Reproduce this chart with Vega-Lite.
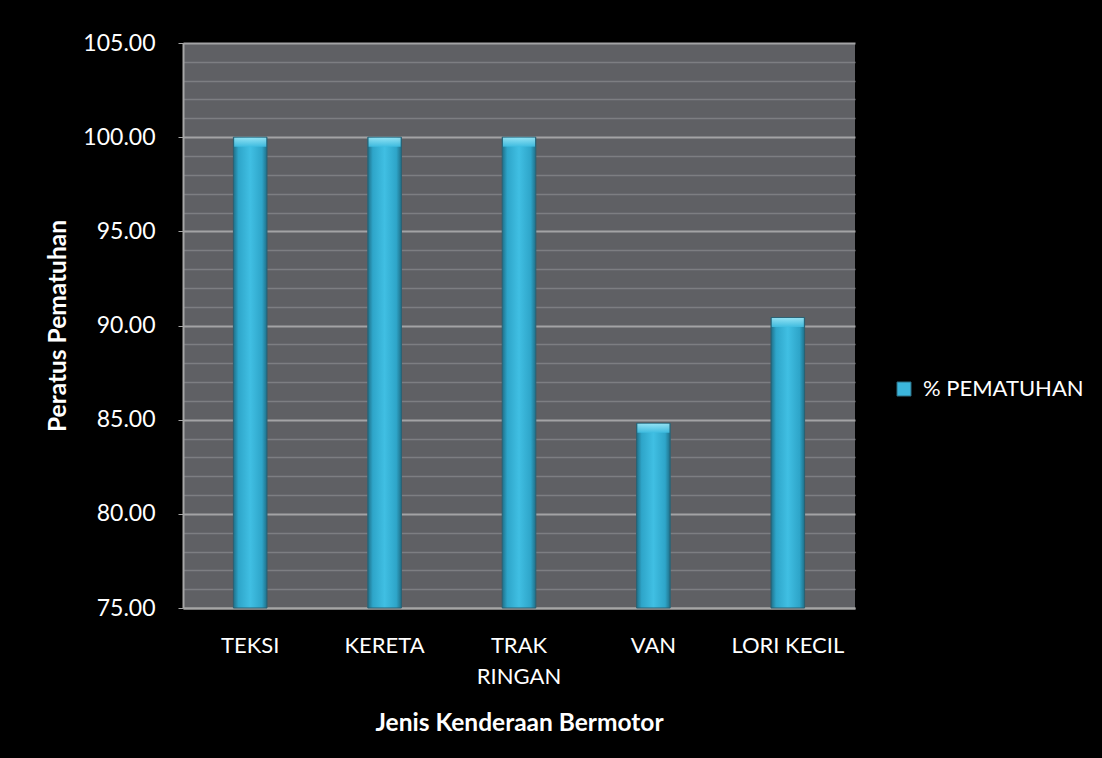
{
  "$schema": "https://vega.github.io/schema/vega-lite/v6.json",
  "autosize": {"type": "none"},
  "padding": {"left": 183, "top": 43, "right": 247, "bottom": 150},
  "width": 672,
  "height": 565,
  "background": "#000000",
  "config": {
    "view": {"fill": "#5f6064", "stroke": null},
    "font": "Lato"
  },
  "data": {
    "values": [
      {"jenis": "TEKSI", "peratus": 100.0, "siri": "% PEMATUHAN"},
      {"jenis": "KERETA", "peratus": 100.0, "siri": "% PEMATUHAN"},
      {"jenis": "TRAK RINGAN", "peratus": 100.0, "siri": "% PEMATUHAN"},
      {"jenis": "VAN", "peratus": 84.81, "siri": "% PEMATUHAN"},
      {"jenis": "LORI KECIL", "peratus": 90.42, "siri": "% PEMATUHAN"}
    ]
  },
  "encoding": {
    "x": {
      "field": "jenis",
      "type": "nominal",
      "sort": null,
      "scale": {"paddingInner": 0.75, "paddingOuter": 0.375},
      "axis": {
        "title": "Jenis Kenderaan Bermotor",
        "titleFont": "Lato",
        "titleFontSize": 24.5,
        "titleFontWeight": "bold",
        "titleColor": "#ffffff",
        "titlePadding": 24,
        "labelAngle": 0,
        "labelFont": "Lato",
        "labelFontSize": 22,
        "labelColor": "#ffffff",
        "labelPadding": 27,
        "labelLineHeight": 31,
        "labelExpr": "datum.label == 'TRAK RINGAN' ? ['TRAK', 'RINGAN'] : datum.label",
        "ticks": false,
        "domainColor": "#a6a6a6",
        "domainWidth": 2
      }
    },
    "y": {
      "field": "peratus",
      "type": "quantitative",
      "scale": {"domain": [75, 105], "nice": false, "zero": false},
      "axis": {
        "title": "Peratus Pematuhan",
        "titleFont": "Lato",
        "titleFontSize": 24.5,
        "titleFontWeight": "bold",
        "titleColor": "#ffffff",
        "titlePadding": 12,
        "values": [75,76,77,78,79,80,81,82,83,84,85,86,87,88,89,90,91,92,93,94,95,96,97,98,99,100,101,102,103,104,105],
        "labelExpr": "datum.value % 5 === 0 ? format(datum.value, '.2f') : ''",
        "labelFont": "Lato",
        "labelFontSize": 23,
        "labelColor": "#ffffff",
        "labelPadding": 23,
        "tickSize": 5,
        "tickColor": "#a6a6a6",
        "tickOpacity": {"condition": {"test": "datum.value % 5 === 0", "value": 1}, "value": 0},
        "domainColor": "#a6a6a6",
        "domainWidth": 2,
        "grid": true,
        "gridColor": {"condition": {"test": "datum.value % 5 === 0", "value": "#a3a3a5"}, "value": "#7d7e82"},
        "gridWidth": {"condition": {"test": "datum.value % 5 === 0", "value": 2}, "value": 1.5}
      }
    }
  },
  "layer": [
    {
      "mark": {"type": "bar"},
      "encoding": {
        "y2": {"datum": 75},
        "color": {
          "field": "siri",
          "type": "nominal",
          "scale": {"range": ["#3bb6dc"]},
          "legend": {
            "title": null,
            "orient": "none",
            "legendX": 710,
            "legendY": 335,
            "labelFont": "Lato",
            "labelFontSize": 22,
            "labelColor": "#ffffff",
            "labelLimit": 300,
            "labelOffset": 8,
            "symbolType": "square",
            "symbolSize": 196,
            "symbolStrokeColor": "#2a6d82",
            "symbolStrokeWidth": 1
          }
        }
      }
    },
    {
      "mark": {
        "type": "bar",
        "stroke": "#2b5f70",
        "strokeWidth": 1,
        "fill": {
          "gradient": "linear",
          "x1": 0, "y1": 0, "x2": 1, "y2": 0,
          "stops": [
            {"offset": 0, "color": "#1f6f88"},
            {"offset": 0.15, "color": "#2ea5c9"},
            {"offset": 0.5, "color": "#40bfe3"},
            {"offset": 0.85, "color": "#2ea5c9"},
            {"offset": 1, "color": "#1f6f88"}
          ]
        }
      },
      "encoding": {"y2": {"datum": 75}}
    },
    {
      "mark": {
        "type": "tick",
        "orient": "horizontal",
        "size": 32,
        "thickness": 9,
        "yOffset": 5,
        "fill": {
          "gradient": "linear",
          "x1": 0, "y1": 0, "x2": 0, "y2": 1,
          "stops": [
            {"offset": 0, "color": "#9ae6f6"},
            {"offset": 1, "color": "#3fbde1"}
          ]
        },
        "opacity": 0.9
      },
      "encoding": {}
    }
  ]
}
